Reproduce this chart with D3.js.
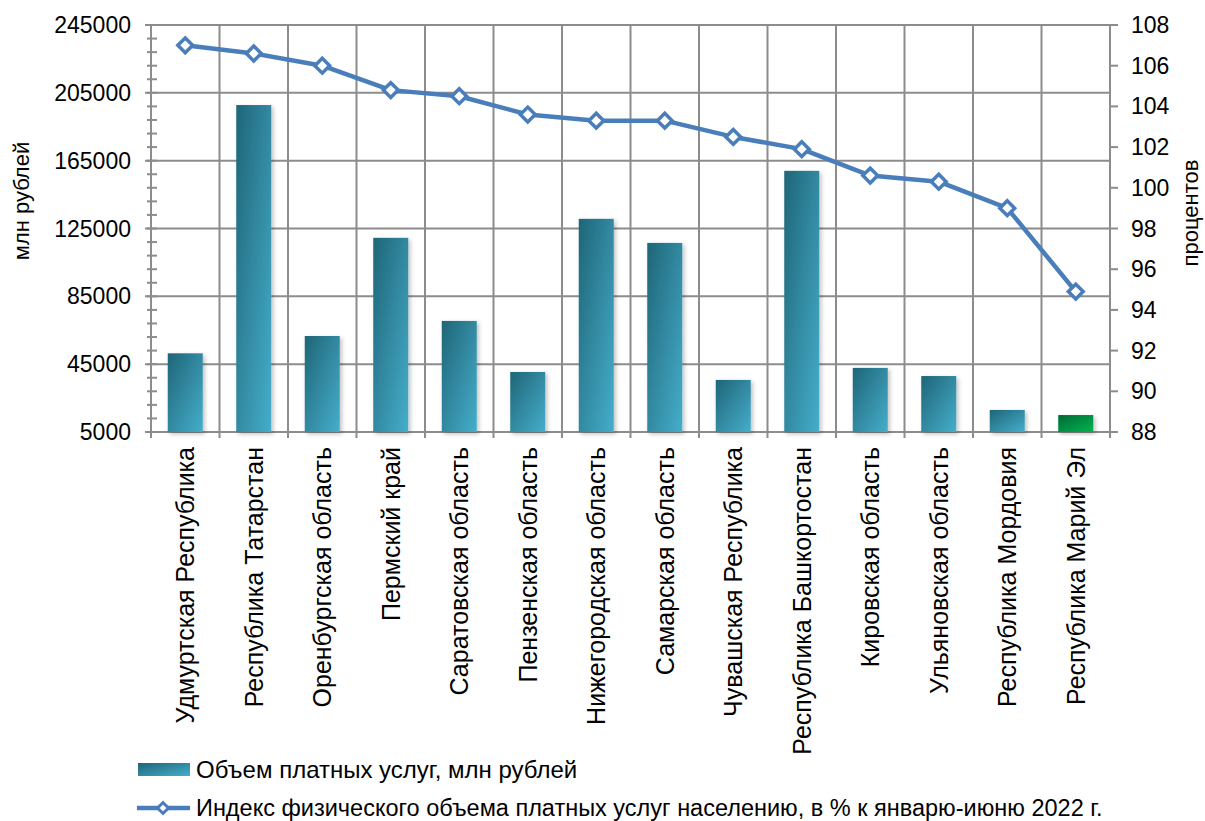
<!DOCTYPE html>
<html>
<head>
<meta charset="utf-8">
<script src="https://cdn.jsdelivr.net/npm/d3@7"></script>
<style>
  body { margin: 0; background: #fff; }
  svg { display: block; font-family: "Liberation Sans", Arial, sans-serif; }
</style>
</head>
<body>
<svg id="chart" width="1205" height="821"></svg>
<script>
// regions (categories)
const regions = [
	'Удмуртская Республика', 'Республика Татарстан', 'Оренбургская область',
	'Пермский край', 'Саратовская область', 'Пензенская область',
	'Нижегородская область', 'Самарская область', 'Чувашская Республика',
	'Республика Башкортостан', 'Кировская область', 'Ульяновская область',
	'Республика Мордовия', 'Республика Марий Эл'
];
// volume of paid services, mln rubles
const volume = [51400, 197800, 61600, 119500, 70500, 40400, 130700, 116500, 35700, 159000, 42800, 38000, 18000, 15000];
// physical volume index, %
const index = [107.0, 106.6, 106.0, 104.8, 104.5, 103.6, 103.3, 103.3, 102.5, 101.9, 100.6, 100.3, 99.0, 94.9];

const leftTicks = [5000, 45000, 85000, 125000, 165000, 205000, 245000];
const rightTicks = [88, 90, 92, 94, 96, 98, 100, 102, 104, 106, 108];
const barLegend = 'Объем платных услуг, млн рублей';
const lineLegend = 'Индекс физического объема платных услуг населению, в % к январю-июню 2022 г.';
const leftTitle = 'млн рублей';
const rightTitle = 'процентов';

const plotLeft = 151, plotRight = 1110, plotTop = 25, plotBottom = 432;
const gridColor = '#8c8c8c';
const lineColor = '#4a7ebb';

const svg = d3.select('#chart');
const defs = svg.append('defs');

function gradient(id, c1, c2) {
	const g = defs.append('linearGradient').attr('id', id)
		.attr('x1', '0').attr('y1', '0').attr('x2', '1').attr('y2', '1');
	g.append('stop').attr('offset', '0%').attr('stop-color', c1);
	g.append('stop').attr('offset', '100%').attr('stop-color', c2);
}
gradient('tealGrad', '#1f6577', '#45aecb');
gradient('greenGrad', '#006a35', '#00b450');

const shadow = defs.append('filter').attr('id', 'shadow')
	.attr('x', '-20%').attr('y', '-10%').attr('width', '150%').attr('height', '130%');
shadow.append('feDropShadow').attr('dx', 2).attr('dy', 2).attr('stdDeviation', 2)
	.attr('flood-color', '#000').attr('flood-opacity', 0.25);

const x = d3.scaleBand().domain(regions).range([plotLeft, plotRight]).paddingInner(0).paddingOuter(0);
const yL = d3.scaleLinear().domain([5000, 245000]).range([plotBottom, plotTop]);
const yR = d3.scaleLinear().domain([88, 108]).range([plotBottom, plotTop]);

// horizontal grid
svg.append('g').selectAll('line').data(leftTicks).join('line')
	.attr('x1', plotLeft - 6).attr('x2', plotRight)
	.attr('y1', (d) => yL(d)).attr('y2', (d) => yL(d))
	.attr('stroke', gridColor).attr('stroke-width', 2);

// vertical grid at category boundaries
const bounds = regions.map((r) => x(r)).concat([plotRight]);
svg.append('g').selectAll('line').data(bounds).join('line')
	.attr('x1', (d) => d).attr('x2', (d) => d)
	.attr('y1', plotTop).attr('y2', plotBottom + 6)
	.attr('stroke', gridColor).attr('stroke-width', 2);

// left minor ticks
const minor = d3.range(5000, 245001, 8000);
svg.append('g').selectAll('line').data(minor).join('line')
	.attr('x1', plotLeft - 4).attr('x2', plotLeft + 6)
	.attr('y1', (d) => yL(d)).attr('y2', (d) => yL(d))
	.attr('stroke', gridColor).attr('stroke-width', 2);

// right axis ticks
svg.append('g').selectAll('line').data(rightTicks).join('line')
	.attr('x1', plotRight).attr('x2', plotRight + 8)
	.attr('y1', (d) => yR(d)).attr('y2', (d) => yR(d))
	.attr('stroke', gridColor).attr('stroke-width', 2);

// axis labels
svg.append('g').selectAll('text').data(leftTicks).join('text')
	.attr('x', plotLeft - 20).attr('y', (d) => yL(d)).attr('dy', '0.35em')
	.attr('text-anchor', 'end').attr('font-size', 23).attr('fill', '#000')
	.text((d) => d);

svg.append('g').selectAll('text').data(rightTicks).join('text')
	.attr('x', plotRight + 21).attr('y', (d) => yR(d)).attr('dy', '0.35em')
	.attr('text-anchor', 'start').attr('font-size', 23).attr('fill', '#000')
	.text((d) => d);

svg.append('text')
	.attr('transform', 'translate(29,201) rotate(-90)')
	.attr('text-anchor', 'middle').attr('font-size', 22).text(leftTitle);
svg.append('text')
	.attr('transform', 'translate(1198,213) rotate(-90)')
	.attr('text-anchor', 'middle').attr('font-size', 22).text(rightTitle);

// bars
const bw = 35;
svg.append('g').selectAll('rect').data(volume).join('rect')
	.attr('x', (d, i) => x(regions[i]) + x.bandwidth() / 2 - bw / 2)
	.attr('y', (d) => yL(d))
	.attr('width', bw)
	.attr('height', (d) => yL(5000) - yL(d))
	.attr('fill', (d, i) => (i === regions.length - 1 ? 'url(#greenGrad)' : 'url(#tealGrad)'))
	.attr('filter', 'url(#shadow)');

// category labels
svg.append('g').selectAll('text').data(regions).join('text')
	.attr('transform', (d) => `translate(${x(d) + x.bandwidth() / 2},447) rotate(-90)`)
	.attr('dy', '0.35em').attr('text-anchor', 'end').attr('font-size', 25)
	.text((d) => d);

// line
const cx = (i) => x(regions[i]) + x.bandwidth() / 2;
const line = d3.line().x((d, i) => cx(i)).y((d) => yR(d));
svg.append('path').datum(index)
	.attr('d', line).attr('fill', 'none')
	.attr('stroke', lineColor).attr('stroke-width', 4.5).attr('stroke-linejoin', 'round');

const diamond = d3.symbol().type(d3.symbolSquare).size(110);
svg.append('g').selectAll('path').data(index).join('path')
	.attr('transform', (d, i) => `translate(${cx(i)},${yR(d)}) rotate(45)`)
	.attr('d', diamond)
	.attr('fill', '#fff').attr('stroke', lineColor).attr('stroke-width', 3.5);

// legend
const lg = svg.append('g');
lg.append('rect').attr('x', 138).attr('y', 763).attr('width', 52).attr('height', 13)
	.attr('fill', 'url(#tealGrad)');
lg.append('text').attr('x', 196).attr('y', 770).attr('dy', '0.35em')
	.attr('font-size', 24).text(barLegend);
lg.append('line').attr('x1', 137).attr('x2', 190).attr('y1', 808).attr('y2', 808)
	.attr('stroke', lineColor).attr('stroke-width', 4.5);
lg.append('path').attr('transform', 'translate(163,808) rotate(45)')
	.attr('d', d3.symbol().type(d3.symbolSquare).size(60))
	.attr('fill', '#fff').attr('stroke', lineColor).attr('stroke-width', 3);
lg.append('text').attr('x', 196).attr('y', 808).attr('dy', '0.35em')
	.attr('font-size', 23.5).text(lineLegend);
</script>
</body>
</html>
